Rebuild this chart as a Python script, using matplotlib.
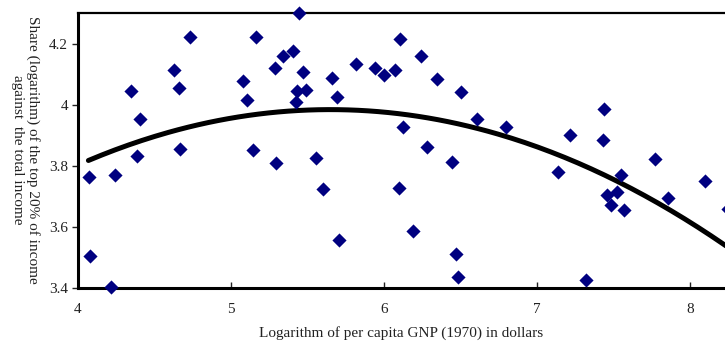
import numpy as np
import matplotlib
matplotlib.use("Agg")
from matplotlib import pyplot as plt

# log per capita GNP (x) and log share of top 20% (y)
gnp = [4.074, 4.082, 4.218, 4.242, 4.346, 4.388, 4.407, 4.629, 4.662, 4.671,
       4.732, 5.078, 5.107, 5.148, 5.163, 5.290, 5.294, 5.340, 5.409, 5.425,
       5.431, 5.446, 5.475, 5.494, 5.560, 5.603, 5.662, 5.693, 5.710, 5.821,
       5.943, 6.000, 6.076, 6.100, 6.109, 6.124, 6.192, 6.244, 6.281, 6.348,
       6.446, 6.471, 6.488, 6.503, 6.608, 6.801, 7.141, 7.216, 7.320, 7.435,
       7.438, 7.461, 7.488, 7.523, 7.551, 7.571, 7.771, 7.860, 8.100, 8.250]
share = [3.763, 3.503, 3.401, 3.769, 4.046, 3.831, 3.954, 4.114, 4.057, 3.855,
         4.222, 4.079, 4.016, 3.852, 4.223, 4.121, 3.809, 4.162, 4.177, 4.010,
         4.047, 4.301, 4.107, 4.049, 3.825, 3.724, 4.088, 4.026, 3.557, 4.135,
         4.122, 4.098, 4.114, 3.728, 4.216, 3.928, 3.585, 4.162, 3.862, 4.085,
         3.813, 3.512, 3.436, 4.043, 3.954, 3.927, 3.780, 3.900, 3.425, 3.884,
         3.987, 3.703, 3.672, 3.715, 3.769, 3.656, 3.822, 3.696, 3.750, 3.660]

# quadratic trend (a*x^2 + b*x + c) and its start
trend_coef = [-0.0669, 0.756, 1.849]
trend_x0 = 4.07

xticks = [4, 5, 6, 7, 8]
yticks = [3.4, 3.6, 3.8, 4.0, 4.2]
ytick_labels = ["3.4", "3.6", "3.8", "4", "4.2"]

plt.rcParams['font.family'] = ['Liberation Serif', 'DejaVu Serif']

fig = plt.figure(figsize=(7.25, 3.43), dpi=100)
ax = fig.add_axes([77.7 / 725, 55.3 / 343, 647.3 / 725, 275 / 343])

ax.scatter(gnp, share, marker='D', s=52, color='#000080', zorder=3,
           clip_on=False, linewidths=0)

xs = np.linspace(trend_x0, 8.4, 200)
ax.plot(xs, np.polyval(trend_coef, xs), color='black', lw=3.6,
        solid_capstyle='round', zorder=2)

ax.set_xlim(4, 8.23)
ax.set_ylim(3.4, 4.303)
ax.set_xticks(xticks)
ax.set_xticklabels([str(t) for t in xticks])
ax.set_yticks(yticks)
ax.set_yticklabels(ytick_labels)

ax.spines['right'].set_visible(False)
ax.spines['left'].set_linewidth(2.2)
ax.spines['bottom'].set_linewidth(2.2)
ax.spines['top'].set_linewidth(1.6)

ax.tick_params(axis='x', direction='in', length=4, width=1, pad=11,
               labelsize=11, colors='#222222')
ax.tick_params(axis='y', direction='out', length=4, width=1, pad=3,
               labelsize=11, colors='#222222')

ax.set_xlabel("Logarithm of per capita GNP (1970) in dollars", fontsize=11,
              color='#222222', labelpad=7)
ax.text(-0.081, 0.5, "Share (logarithm) of the top 20% of income\nagainst  the total income",
        transform=ax.transAxes, rotation=270, ha='center', va='center',
        multialignment='center', fontsize=11, color='#222222')

fig.savefig("out.png", dpi=100)
